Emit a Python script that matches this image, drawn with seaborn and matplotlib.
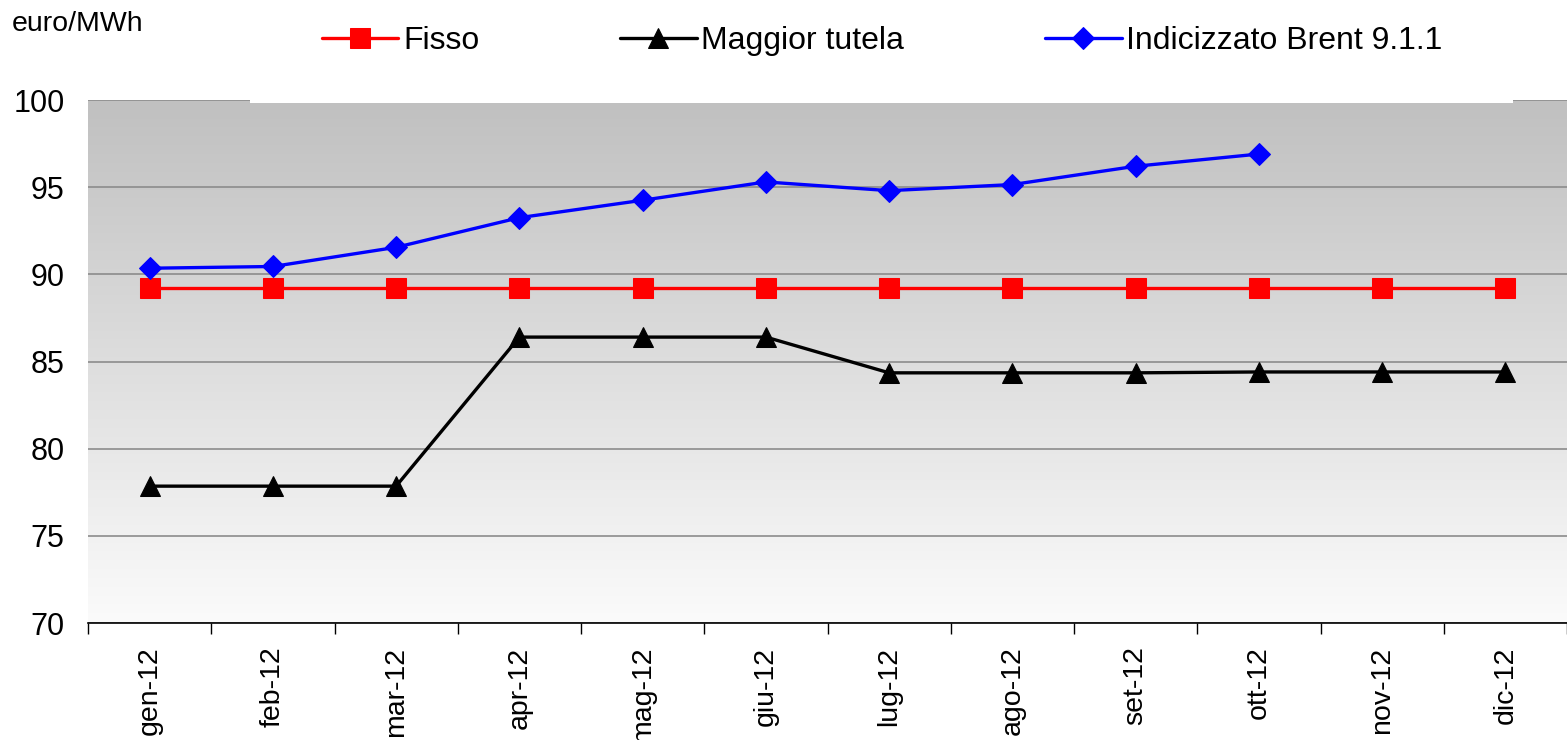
import numpy as np
import pandas as pd
import matplotlib
matplotlib.use("Agg")
import matplotlib.pyplot as plt
import seaborn as sns
from matplotlib.colors import LinearSegmentedColormap
from matplotlib.patches import Rectangle
from matplotlib.ticker import FixedLocator, MultipleLocator

months = ["gen-12", "feb-12", "mar-12", "apr-12", "mag-12", "giu-12",
          "lug-12", "ago-12", "set-12", "ott-12", "nov-12", "dic-12"]
fisso = [89.2] * 12
maggior_tutela = [77.85, 77.85, 77.85, 86.4, 86.4, 86.4,
                  84.35, 84.35, 84.35, 84.4, 84.4, 84.4]
brent = [90.35, 90.45, 91.55, 93.25, 94.25, 95.3,
         94.8, 95.15, 96.2, 96.9, np.nan, np.nan]

series_names = ["Fisso", "Maggior tutela", "Indicizzato Brent 9.1.1"]
series_values = [fisso, maggior_tutela, brent]

df = pd.concat(
    [pd.DataFrame({"mese": months, "valore": vals, "serie": name})
     for name, vals in zip(series_names, series_values)],
    ignore_index=True,
)

sns.set_style("white")
plt.rcParams["font.family"] = ["Liberation Sans", "DejaVu Sans"]
plt.rcParams["text.color"] = "black"
plt.rcParams["xtick.color"] = "black"
plt.rcParams["ytick.color"] = "black"

fig = plt.figure(figsize=(15.67, 7.40), dpi=100)
ax = fig.add_axes([88 / 1567, 1 - 623 / 740, 1 - 88 / 1567, (623 - 100) / 740])

# grey-to-white gradient behind the plot
grad = LinearSegmentedColormap.from_list("bg", ["#fbfbfb", "#c0c0c0"])
ax.imshow(np.linspace(0, 1, 256).reshape(-1, 1), cmap=grad, origin="lower",
          extent=(-0.5, 11.5, 70, 100), aspect="auto", zorder=0)

palette = {"Fisso": "#ff0000", "Maggior tutela": "#000000",
           "Indicizzato Brent 9.1.1": "#0000ff"}
markers = {"Fisso": "s", "Maggior tutela": "^", "Indicizzato Brent 9.1.1": "D"}
sizes = {"Fisso": 14.5, "Maggior tutela": 15, "Indicizzato Brent 9.1.1": 11}

for name in series_names:
    sub = df[df["serie"] == name]
    sns.lineplot(data=sub, x="mese", y="valore", ax=ax, color=palette[name],
                 marker=markers[name], markersize=sizes[name], linewidth=2.4,
                 markeredgecolor=palette[name], label=name, legend=False,
                 zorder=3)

ax.set_xlim(-0.5, 11.5)
ax.set_ylim(70, 100)
ax.yaxis.set_major_locator(MultipleLocator(5))
ax.grid(axis="y", color="#8c8c8c", linewidth=1.2)
ax.grid(axis="x", visible=False)
ax.set_axisbelow(True)

ax.set_xticks(range(12))
ax.set_xticklabels(months, rotation=90, fontsize=20.5)
ax.xaxis.set_minor_locator(FixedLocator(np.arange(-0.5, 12, 1)))
ax.tick_params(axis="x", which="major", length=0, pad=17)
ax.tick_params(axis="x", which="minor", length=8, width=1, color="black",
               direction="out", bottom=True)
ax.tick_params(axis="y", length=0, labelsize=22, pad=17)

ax.set_xlabel("")
ax.set_ylabel("")
for side in ["left", "right", "top"]:
    ax.spines[side].set_visible(False)
ax.spines["bottom"].set_color("black")
ax.spines["bottom"].set_linewidth(1.2)

# white strip of the legend box overlapping the plot top
fig.patches.append(Rectangle((250 / 1567, 1 - 103 / 740), (1513 - 250) / 1567,
                             103 / 740, transform=fig.transFigure,
                             facecolor="white", edgecolor="none", zorder=1))

handles, labels = ax.get_legend_handles_labels()
fig.legend(handles, labels, loc="center", bbox_to_anchor=(0.563, 0.945),
           ncol=3, frameon=False, fontsize=23, handlelength=2.4,
           handletextpad=0.15, columnspacing=4.4)

fig.text(12 / 1567, 1 - 24 / 740, "euro/MWh", fontsize=20.5, va="center",
         ha="left")

fig.savefig("out.png", dpi=100)
